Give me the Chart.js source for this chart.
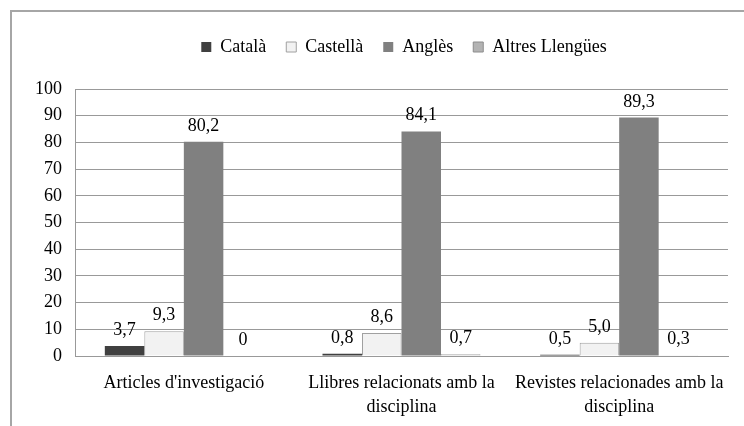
<!DOCTYPE html>
<html>
<head>
<meta charset="utf-8">
<script src="https://cdn.jsdelivr.net/npm/chart.js@4"></script>
<style>
html,body{margin:0;padding:0;background:#fff;}
#wrap{position:relative;width:744px;height:426px;overflow:hidden;}
#frame{position:absolute;left:10px;top:10px;width:800px;height:500px;border-top:2px solid #a6a6a6;border-left:2px solid #a6a6a6;box-sizing:border-box;}
canvas{position:absolute;left:0;top:0;}
</style>
</head>
<body>
<div id="wrap">
<div id="frame"></div>
<canvas id="c" width="744" height="426"></canvas>
</div>
<script>
const categories = [["Articles d'investigació"], ["Llibres relacionats amb la", "disciplina"], ["Revistes relacionades amb la", "disciplina"]];
const seriesNames = ["Català", "Castellà", "Anglès", "Altres Llengües"];
const catala = [3.7, 0.8, 0.5];
const castella = [9.3, 8.6, 5.0];
const angles = [80.2, 84.1, 89.3];
const altres = [0, 0.7, 0.3];
const yTicks = [0, 10, 20, 30, 40, 50, 60, 70, 80, 90, 100];

const FONT = "'Liberation Serif', 'Times New Roman', serif";
const fmt = v => v === 0 ? "0" : v.toFixed(1).replace('.', ',');

const labelPlugin = {
  id: 'vlabels',
  afterInit(chart) {
    const lg = chart.legend;
    if (lg) {
      const orig = lg.fit;
      lg.fit = function () { orig.call(this); this.height += 23; };
    }
  },
  afterLayout(chart) {
    const lg = chart.legend;
    if (lg) { lg.left += 40; lg.right += 40; }
  },
  afterDatasetsDraw(chart) {
    const ctx = chart.ctx;
    ctx.save();
    ctx.font = "18px " + FONT;
    ctx.fillStyle = "#000";
    ctx.textAlign = "center";
    ctx.textBaseline = "alphabetic";
    chart.data.datasets.forEach((ds, i) => {
      const meta = chart.getDatasetMeta(i);
      meta.data.forEach((el, j) => {
        ctx.fillText(fmt(ds.data[j]), el.x, el.y - 11);
      });
    });
    ctx.restore();
  }
};

new Chart(document.getElementById('c'), {
  type: 'bar',
  data: {
    labels: categories,
    datasets: [
      {label: seriesNames[0], data: catala, backgroundColor: '#404040', borderColor: '#404040', borderWidth: 0},
      {label: seriesNames[1], data: castella, backgroundColor: '#f2f2f2', borderColor: '#a0a0a0', borderWidth: 1},
      {label: seriesNames[2], data: angles, backgroundColor: '#808080', borderColor: '#808080', borderWidth: 0},
      {label: seriesNames[3], data: altres, backgroundColor: '#b3b3b3', borderColor: '#8c8c8c', borderWidth: 1}
    ]
  },
  options: {
    responsive: false,
    animation: false,
    devicePixelRatio: 1,
    layout: {padding: {top: 18, right: 16, left: 0, bottom: 0}},
    datasets: {bar: {categoryPercentage: 0.726, barPercentage: 1}},
    plugins: {
      legend: {
        position: 'top',
        labels: {
          font: {family: FONT, size: 18},
          color: '#000',
          boxWidth: 10,
          boxHeight: 10,
          padding: 20
        }
      },
      tooltip: {enabled: false}
    },
    scales: {
      x: {
        afterFit(s) { s.height = 70; },
        grid: {display: false, drawTicks: false},
        border: {display: true, color: '#999', width: 1},
        ticks: {font: {family: FONT, size: 18, lineHeight: 1.333}, color: '#000', padding: 15, maxRotation: 0, autoSkip: false}
      },
      y: {
        min: 0, max: 100,
        afterFit(s) { s.width = 75; },
        afterBuildTicks(s) { s.ticks = yTicks.map(v => ({value: v})); },
        grid: {color: '#999', drawTicks: false},
        border: {display: true, color: '#999', width: 1},
        ticks: {font: {family: FONT, size: 18}, color: '#000', padding: 13}
      }
    }
  },
  plugins: [labelPlugin]
});
</script>
</body>
</html>
